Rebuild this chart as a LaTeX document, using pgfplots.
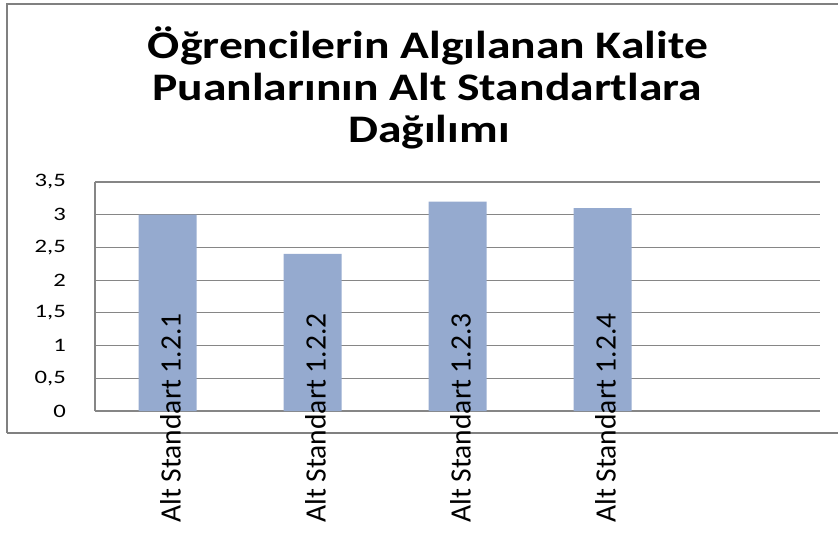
\documentclass[border=0pt]{standalone}
\usepackage{pgfplots}
\pgfplotsset{compat=1.18}
\usepackage{fontspec}
\setmainfont{Carlito}
\definecolor{barblue}{RGB}{149,170,207}
\definecolor{gridgray}{RGB}{134,134,134}
\definecolor{framegray}{RGB}{128,128,128}
\newcommand{\yl}[1]{\scalebox{1.3}[1]{#1}}
\pgfplotsset{
  commonaxis/.style={
    at={(95pt,-411pt)}, anchor=south west,
    scale only axis, width=725pt, height=229pt,
    xmin=-0.5, xmax=4.5, ymin=0, ymax=3.5,
    major tick length=0pt,
  },
}
\begin{document}
\begin{tikzpicture}[x=1pt,y=1pt]
\useasboundingbox (0,0) rectangle (838,-535);
\draw[framegray, line width=2pt] (7,-433) -- (7,-4) -- (845,-4);
\draw[framegray, line width=1.5pt] (7,-433) -- (845,-433);
\node[anchor=base, font=\fontsize{39}{40}\selectfont\bfseries] at (428,-59) {\scalebox{1.22}[1]{Öğrencilerin Algılanan Kalite}};
\node[anchor=base, font=\fontsize{39}{40}\selectfont\bfseries] at (427,-100) {\scalebox{1.22}[1]{Puanlarının Alt Standartlara}};
\node[anchor=base, font=\fontsize{39}{40}\selectfont\bfseries] at (429,-142) {\scalebox{1.22}[1]{Dağılımı}};
\begin{axis}[
  commonaxis,
  axis x line=bottom, axis y line=left,
  axis line style={-, gridgray, line width=1.2pt},
  ymajorgrids, grid style={gridgray, line width=1.2pt},
  xtick={0,1,2,3}, xticklabels={},
  ytick={0,0.5,1,1.5,2,2.5,3,3.5},
  yticklabels={\yl{0},\yl{0,5},\yl{1},\yl{1,5},\yl{2},\yl{2,5},\yl{3},\yl{3,5}},
  yticklabel style={font=\fontsize{19}{19}\selectfont, anchor=east, inner sep=0pt, xshift=-29pt},
]
\addplot[ybar, bar width=58pt, fill=barblue, draw=none] coordinates {(0,3.0) (1,2.4) (2,3.2) (3,3.1)};
\end{axis}
\begin{axis}[
  commonaxis,
  axis x line=bottom, axis y line=left,
  axis line style={draw=none},
  ytick=\empty,
  xtick={0,1,2,3},
  xticklabels={Alt Standart 1.2.1, Alt Standart 1.2.2, Alt Standart 1.2.3, Alt Standart 1.2.4},
  xticklabel style={font=\fontsize{29.5}{30}\selectfont, anchor=center, yshift=-7pt, xshift=3pt, rotate=90, inner sep=0pt},
]
\end{axis}
\end{tikzpicture}
\end{document}
